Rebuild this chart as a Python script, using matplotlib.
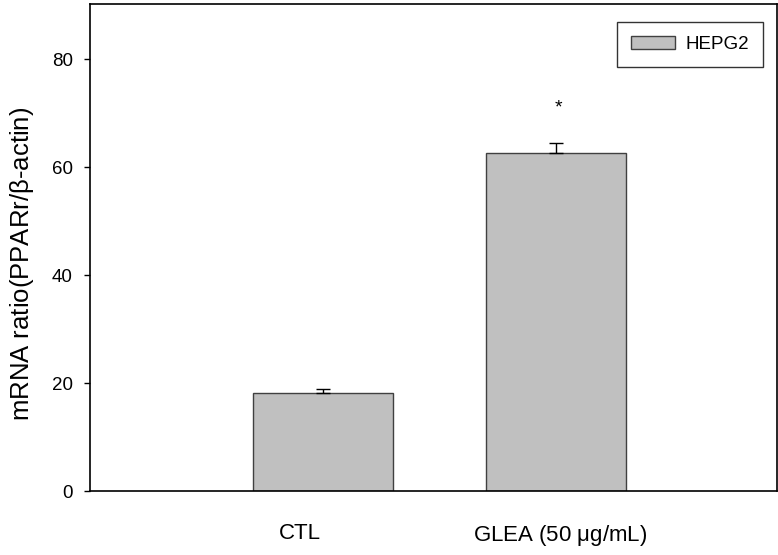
import matplotlib
matplotlib.use("Agg")
import matplotlib.pyplot as plt

# data
groups = ["CTL", "GLEA (50 $\\mathregular{\\mu}$g/mL)"]
means = [18.2, 62.6]
errs_up = [0.7, 1.9]
star_y = 71.0
series_name = "HEPG2"

plt.rcParams['font.family'] = ['Liberation Sans', 'DejaVu Sans']

fig = plt.figure(figsize=(7.78, 5.55), dpi=100)
ax = fig.add_axes([0.1157, 0.1153, 0.8830, 0.8775])

pos = [1, 2]
ax.bar(pos, means, width=0.6, color="#c0c0c0", edgecolor="#404040",
       linewidth=1.0, label=series_name, zorder=2)
ax.errorbar(pos, means, yerr=[[0, 0], errs_up], fmt="none", ecolor="black",
            elinewidth=1.0, capsize=5, capthick=1.0, zorder=3)
ax.text(2.01, star_y, "*", ha="center", va="center", fontsize=14)

ax.set_xlim(0, 2.95)
ax.set_ylim(0, 90.2)
ax.set_yticks([0, 20, 40, 60, 80])
# category labels sit slightly off the bar centres in the original
ax.set_xticks([0.90, 2.02])
ax.set_xticklabels(groups, fontsize=16)
ax.tick_params(axis="x", length=0, pad=23)
ax.tick_params(axis="y", direction="out", length=4.3, width=1.0, labelsize=13.5, pad=8)
ax.set_ylabel("mRNA ratio(PPARr/$\\mathregular{\\beta}$-actin)", fontsize=18.5)
ax.yaxis.set_label_coords(-0.078, 0.466)

for s in ax.spines.values():
    s.set_linewidth(1.2)

leg = ax.legend(loc="upper right", bbox_to_anchor=(0.98, 0.963), borderaxespad=0,
                fancybox=False, edgecolor="black", fontsize=13.5,
                handlelength=2.37, handleheight=0.7, handletextpad=0.55,
                borderpad=0.75)
leg.get_frame().set_linewidth(1.0)

fig.savefig("out.png", dpi=100)
